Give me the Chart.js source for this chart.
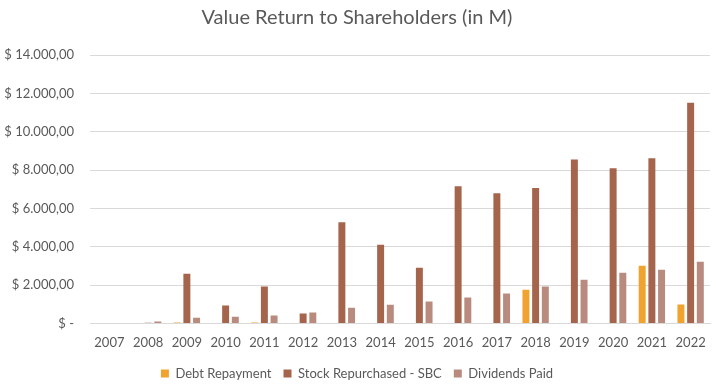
<!DOCTYPE html>
<html>
<head>
<meta charset="utf-8">
<script src="https://cdn.jsdelivr.net/npm/chart.js"></script>
<style>
  html, body { margin: 0; padding: 0; background: #fff; }
  #wrap { width: 719px; height: 390px; }
</style>
</head>
<body>
<div id="wrap"><canvas id="chart"></canvas></div>
<script>
const years = ['2007', '2008', '2009', '2010', '2011', '2012', '2013', '2014', '2015',
  '2016', '2017', '2018', '2019', '2020', '2021', '2022'];

// values in millions
const debtRepayment = [0, 0, 50, 0, 50, 0, 0, 0, 0, 0, 0, 1760, 0, 0, 3010, 985];
const stockRepurchased = [0, 30, 2590, 930, 1920, 520, 5270, 4100, 2900, 7160, 6790, 7060, 8555, 8090, 8610, 11510];
const dividendsPaid = [0, 100, 300, 350, 410, 570, 810, 970, 1140, 1350, 1560, 1920, 2280, 2640, 2800, 3215];

const yTicks = [0, 2000, 4000, 6000, 8000, 10000, 12000, 14000];

const fontFamily = 'Lato, "Open Sans", sans-serif';
const textColor = '#595959';

// Excel accounting style: "$ 14.000,00", zero -> "$ -"
const fmtMoney = (v) => {
  if (v === 0) return '$ -';
  const whole = Math.floor(v).toString().replace(/\B(?=(\d{3})+(?!\d))/g, '.');
  return '$ ' + whole + ',00';
};

new Chart(document.getElementById('chart'), {
  type: 'bar',
  data: {
    labels: years,
    datasets: [
      { label: 'Debt Repayment', data: debtRepayment, backgroundColor: '#F0A32E' },
      { label: 'Stock Repurchased - SBC', data: stockRepurchased, backgroundColor: '#A5654D' },
      { label: 'Dividends Paid', data: dividendsPaid, backgroundColor: '#B98B7F' }
    ]
  },
  options: {
    responsive: true,
    maintainAspectRatio: false,
    animation: false,
    layout: { padding: { left: 4, right: 9, top: 6, bottom: 0 } },
    datasets: {
      bar: { categoryPercentage: 0.75, barPercentage: 0.72 }
    },
    plugins: {
      title: {
        display: true,
        text: 'Value Return to Shareholders (in M)',
        color: textColor,
        font: { family: fontFamily, size: 20, weight: 'normal' },
        padding: { top: 0, bottom: 25 }
      },
      legend: {
        position: 'bottom',
        labels: {
          color: textColor,
          font: { family: fontFamily, size: 13 },
          boxWidth: 8,
          boxHeight: 8,
          padding: 12
        }
      },
      tooltip: { enabled: false }
    },
    scales: {
      x: {
        grid: { display: false },
        border: { color: '#d9d9d9' },
        ticks: { color: textColor, font: { family: fontFamily, size: 13 }, padding: 4 }
      },
      y: {
        min: 0,
        max: 14000,
        afterBuildTicks: (axis) => { axis.ticks = yTicks.map(v => ({ value: v })); },
        afterFit: (axis) => { axis.width = 86; },
        grid: { color: '#d9d9d9', drawTicks: false },
        border: { display: false },
        ticks: {
          color: textColor,
          font: { family: fontFamily, size: 13 },
          padding: 16,
          callback: (v) => fmtMoney(v)
        }
      }
    }
  }
});
</script>
</body>
</html>
